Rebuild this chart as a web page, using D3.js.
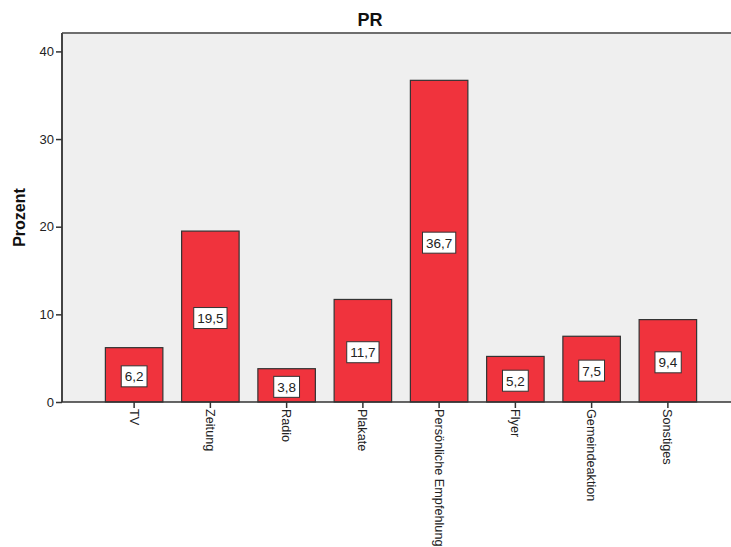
<!DOCTYPE html>
<html>
<head>
<meta charset="utf-8">
<script src="https://cdn.jsdelivr.net/npm/d3@7"></script>
<style>
  html, body { margin: 0; padding: 0; background: #fff; }
  svg { display: block; font-family: "Liberation Sans", Arial, sans-serif; }
</style>
</head>
<body>
<div id="chart"></div>
<script>
// Media channels and their share in percent
const categories = ["TV", "Zeitung", "Radio", "Plakate", "Persönliche Empfehlung", "Flyer", "Gemeindeaktion", "Sonstiges"];
const values = [6.2, 19.5, 3.8, 11.7, 36.7, 5.2, 7.5, 9.4];
const yTicks = [0, 10, 20, 30, 40];
const title = "PR";
const yLabel = "Prozent";

const width = 731, height = 547;
const plot = { left: 62, top: 33, right: 740, bottom: 402 };

const svg = d3.select("#chart").append("svg")
  .attr("width", width).attr("height", height);

const x = d3.scaleBand()
  .domain(categories)
  .range([plot.left + 34, plot.right - 34])
  .paddingInner(0.246)
  .paddingOuter(0.123);

const y = d3.scaleLinear()
  .domain([0, 42.1])
  .range([plot.bottom, plot.top]);

// plot background
svg.append("rect")
  .attr("x", plot.left).attr("y", plot.top)
  .attr("width", plot.right - plot.left).attr("height", plot.bottom - plot.top)
  .attr("fill", "#efefef");

// top frame line
svg.append("line")
  .attr("x1", plot.left).attr("x2", plot.right)
  .attr("y1", plot.top).attr("y2", plot.top)
  .attr("stroke", "#6e6e6e").attr("stroke-width", 2);

// bars
svg.append("g").selectAll("rect")
  .data(values)
  .join("rect")
  .attr("x", (d, i) => x(categories[i]))
  .attr("y", d => y(d))
  .attr("width", x.bandwidth())
  .attr("height", d => y(0) - y(d))
  .attr("fill", "#f0333d")
  .attr("stroke", "#333")
  .attr("stroke-width", 1.2);

// y axis
const yAxis = svg.append("g")
  .attr("transform", `translate(${plot.left},0)`)
  .call(d3.axisLeft(y).tickValues(yTicks).tickSize(6).tickPadding(2).tickSizeOuter(0));
yAxis.select(".domain").attr("stroke", "#444").attr("stroke-width", 2)
  .attr("d", `M0,${plot.top}V${plot.bottom}`);
yAxis.selectAll(".tick line").attr("stroke", "#333").attr("stroke-width", 1.5);
yAxis.selectAll(".tick text")
  .attr("font-size", 13).attr("fill", "#222")
  .attr("font-family", "'Liberation Sans', Arial, sans-serif");

// x axis
const xAxis = svg.append("g")
  .attr("transform", `translate(0,${plot.bottom})`)
  .call(d3.axisBottom(x).tickSize(6).tickSizeOuter(0).tickPadding(0));
xAxis.select(".domain").attr("stroke", "#333").attr("stroke-width", 1.5)
  .attr("d", `M${plot.left},0H${plot.right}`);
xAxis.selectAll(".tick line").attr("stroke", "#333").attr("stroke-width", 1.5);
xAxis.selectAll(".tick text")
  .attr("font-size", 12.7).attr("fill", "#222")
  .attr("font-family", "'Liberation Sans', Arial, sans-serif")
  .attr("transform", "rotate(90)")
  .attr("text-anchor", "start")
  .attr("x", 7).attr("y", 0).attr("dy", "0.35em");

// value labels in white boxes
const labels = svg.append("g").selectAll("g")
  .data(values)
  .join("g")
  .attr("transform", (d, i) => `translate(${x(categories[i]) + x.bandwidth() / 2},${y(d / 2) + 1.5})`);

labels.append("text")
  .attr("text-anchor", "middle")
  .attr("dy", "0.36em")
  .attr("font-size", 13.5)
  .attr("fill", "#222")
  .text(d => d.toFixed(1).replace(".", ","));

labels.each(function () {
  const g = d3.select(this);
  const bb = g.select("text").node().getBBox();
  g.insert("rect", "text")
    .attr("x", bb.x - 3.5).attr("y", -10.5)
    .attr("width", bb.width + 7).attr("height", 21)
    .attr("fill", "#fff")
    .attr("stroke", "#333").attr("stroke-width", 1);
});

// title
svg.append("text")
  .attr("x", 370).attr("y", 26)
  .attr("text-anchor", "middle")
  .attr("font-size", 18).attr("font-weight", "bold")
  .attr("fill", "#111")
  .text(title);

// y axis title
svg.append("text")
  .attr("transform", `translate(25,${(plot.top + plot.bottom) / 2}) rotate(-90)`)
  .attr("text-anchor", "middle")
  .attr("font-size", 16).attr("font-weight", "bold")
  .attr("fill", "#111")
  .text(yLabel);
</script>
</body>
</html>
